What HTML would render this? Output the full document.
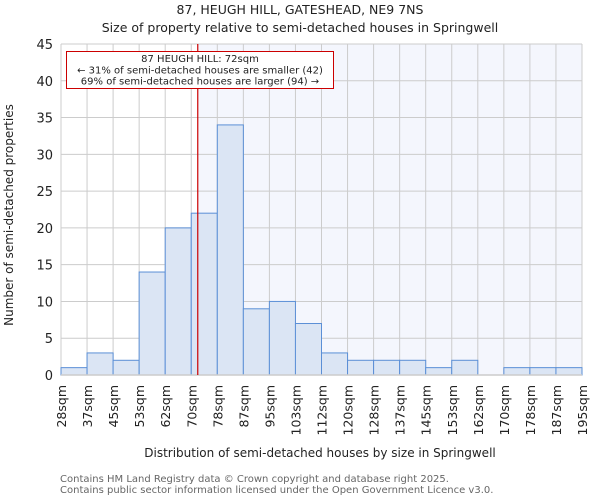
<!DOCTYPE html>
<html><head><meta charset="utf-8"><style>
body{margin:0;background:#fff;font-family:"DejaVu Sans","Liberation Sans",sans-serif;}
</style></head><body>
<svg id="chart" width="600" height="500" xmlns="http://www.w3.org/2000/svg" font-family="DejaVu Sans, Liberation Sans, sans-serif">
<text x="300" y="14" text-anchor="middle" font-size="12.5" fill="#222">87, HEUGH HILL, GATESHEAD, NE9 7NS</text>
<text x="300" y="32" text-anchor="middle" font-size="12.5" fill="#222">Size of property relative to semi-detached houses in Springwell</text>
<g id="plot"></g>
<text x="320" y="457" text-anchor="middle" font-size="12" fill="#222">Distribution of semi-detached houses by size in Springwell</text>
<text transform="translate(13,215) rotate(-90)" text-anchor="middle" font-size="12" fill="#222">Number of semi-detached properties</text>
<text x="60" y="482" font-size="10" fill="#666">Contains HM Land Registry data © Crown copyright and database right 2025.</text>
<text x="60" y="493" font-size="10" fill="#666">Contains public sector information licensed under the Open Government Licence v3.0.</text>
</svg>
<script>
const categories=["28sqm","37sqm","45sqm","53sqm","62sqm","70sqm","78sqm","87sqm","95sqm","103sqm","112sqm","120sqm","128sqm","137sqm","145sqm","153sqm","162sqm","170sqm","178sqm","187sqm","195sqm"];
const counts=[1,3,2,14,20,22,34,9,10,7,3,2,2,2,1,2,0,1,1,1];
const yTicks=[0,5,10,15,20,25,30,35,40,45];
const propertySize=72;
const binStarts=[28,37,45,53,62,70,78,87,95,103,112,120,128,137,145,153,162,170,178,187,195];

const X0=61,X1=582,Y0=375,Y1=44,YMAX=45;
const n=counts.length,bw=(X1-X0)/n;
const xs=i=>X0+i*bw;
const ys=v=>Y0-(v/YMAX)*(Y0-Y1);
function xVal(v){for(let i=0;i<n;i++){if(v>=binStarts[i]&&v<binStarts[i+1])return xs(i)+(v-binStarts[i])/(binStarts[i+1]-binStarts[i])*bw;}return X1;}
const NS="http://www.w3.org/2000/svg";
const g=document.getElementById('plot');
function mk(t,a){const e=document.createElementNS(NS,t);for(const k in a)e.setAttribute(k,a[k]);g.appendChild(e);return e;}
const rx=xVal(propertySize);
let e=mk('rect',{x:rx,y:Y1,width:X1-rx,height:Y0-Y1,fill:'#f4f6fd'});


yTicks.forEach(t=>{
 let l=mk('line',{x1:X0,x2:X1,y1:ys(t),y2:ys(t),stroke:'#cccccc','stroke-width':1});
 
 
 let tx=mk('text',{x:X0-8,y:ys(t)+5,'text-anchor':'end','font-size':13,fill:'#222'});
 tx.textContent=t;
 
 
});
categories.forEach((c,i)=>{
 let l=mk('line',{x1:xs(i),x2:xs(i),y1:Y1,y2:Y0,stroke:'#cccccc','stroke-width':1});
 
 
 let tx=mk('text',{transform:`translate(${xs(i)+5},${Y0+10}) rotate(-90)`,'text-anchor':'end','font-size':12.5,fill:'#222'});
 tx.textContent=c;
 
 
});
counts.forEach((v,i)=>{
 if(v<=0)return;
 let r=mk('rect',{x:xs(i),y:ys(v),width:bw,height:Y0-ys(v),fill:'#dbe5f4',stroke:'#5b8fd6','stroke-width':1});
 
 
});
let ax=mk('line',{x1:X0,x2:X1,y1:Y0,y2:Y0,stroke:'#cccccc','stroke-width':1.5});


let ml=mk('line',{x1:rx,x2:rx,y1:Y1,y2:Y0,stroke:'#cc0000','stroke-width':1.2});


let box=mk('rect',{x:66.5,y:51.5,width:267,height:37,fill:'#fff',stroke:'#cc0000','stroke-width':1});


const ann=["87 HEUGH HILL: 72sqm","← 31% of semi-detached houses are smaller (42)","69% of semi-detached houses are larger (94) →"];
ann.forEach((s,i)=>{
 let t=mk('text',{x:200,y:62+i*11.3,'text-anchor':'middle','font-size':10,fill:'#222'});
 t.textContent=s;
 
 
});
</script>
</body></html>
